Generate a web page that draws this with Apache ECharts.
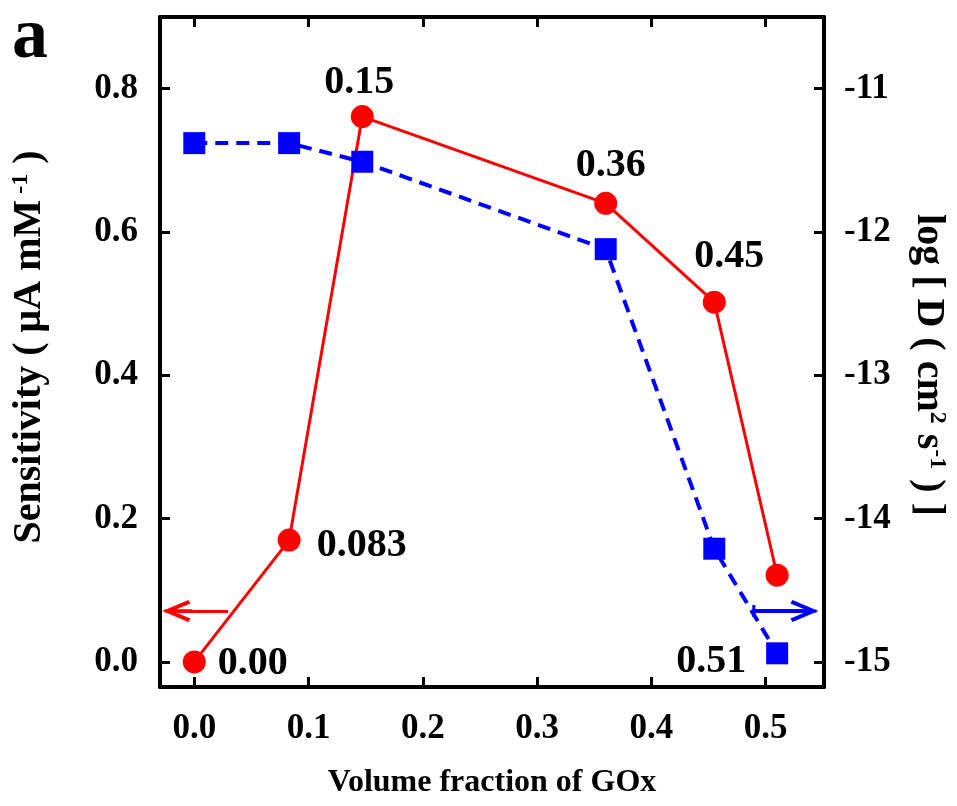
<!DOCTYPE html>
<html>
<head>
<meta charset="utf-8">
<script src="https://cdn.jsdelivr.net/npm/echarts@6/dist/echarts.min.js"></script>
<style>
  html, body { margin: 0; padding: 0; background: #fff; }
  #chart { width: 957px; height: 806px; }
</style>
</head>
<body>
<div id="chart"></div>
<script>
// volume fraction of GOx (x), sensitivity (left axis), log D (right axis)
var fraction = [0, 0.083, 0.147, 0.36, 0.455, 0.51];
var sensitivity = [0.0, 0.17, 0.761, 0.64, 0.502, 0.121];
var logD = [-11.38, -11.38, -11.51, -12.12, -14.21, -14.94];
var pointLabels = ['0.00', '0.083', '0.15', '0.36', '0.45', '0.51'];
var xTicks = [0, 0.1, 0.2, 0.3, 0.4, 0.5];
var leftTicks = [0, 0.2, 0.4, 0.6, 0.8];
var rightTicks = [-15, -14, -13, -12, -11];

var font = '"Liberation Serif", "Times New Roman", serif';
// open arrow head with a piece of shaft, tip at top; the tiny specks keep the box square
var arrowHead = 'path://M0,0 L11,26 L7.5,28 L0,10 L-7.5,28 L-11,26 Z' +
  ' M-1.6,2 L1.6,2 L1.6,30 L-1.6,30 Z' +
  ' M-15,30 L-14.9,30 L-15,29.9 Z M15,30 L14.9,30 L15,29.9 Z';
// short bar across the start of the blue arrow, same 30x30 box
var arrowStart = 'path://M-6,-1.5 L6,-1.5 L6,1.5 L-6,1.5 Z' +
  ' M-15,-15 L-14.9,-15 L-15,-14.9 Z M15,15 L14.9,15 L15,14.9 Z';

// where each label sits next to its point
var redLabelPos = [
  {position: 'right', distance: 12, offset: [0, 2]},
  {position: 'right', distance: 16, offset: [0, 6]},
  {position: 'top', distance: 2, offset: [-3, 0]},
  {position: 'top', distance: 6, offset: [5, 0]},
  {position: 'top', distance: 14, offset: [15, 0]},
  null
];

var redData = fraction.map(function (x, i) {
  var item = {value: [x, sensitivity[i]]};
  if (redLabelPos[i]) {
    item.label = Object.assign({show: true, formatter: pointLabels[i]}, redLabelPos[i]);
  }
  return item;
});
var blueData = fraction.map(function (x, i) {
  var item = {value: [x, logD[i]]};
  if (i === fraction.length - 1) {
    item.label = {show: true, formatter: pointLabels[i], position: 'left', distance: 20, offset: [0, 8]};
  }
  return item;
});

var tickStyle = {show: true, inside: true, length: 10, lineStyle: {color: '#000', width: 3}};
var lineStyle = {show: true, onZero: false, lineStyle: {color: '#000', width: 4}};
var labelFont = {color: '#000', fontFamily: font, fontWeight: 'bold', fontSize: 35};
var titleFont = {color: '#000', fontFamily: font, fontWeight: 'bold', fontSize: 40};
var supFont = {color: '#000', fontFamily: font, fontWeight: 'bold', fontSize: 24, padding: [0, 0, 17, 0]};

var chart = echarts.init(document.getElementById('chart'));
chart.setOption({
  animation: false,
  backgroundColor: '#fff',
  title: {
    text: 'a', left: 7, top: -3,
    textStyle: {fontFamily: font, fontWeight: 'bold', fontSize: 72, color: '#000'}
  },
  grid: {left: 160, right: 129, top: 17, bottom: 119},
  xAxis: [{
    type: 'value', min: -0.03, max: 0.551,
    axisLine: lineStyle,
    axisTick: Object.assign({customValues: xTicks}, tickStyle),
    axisLabel: Object.assign({customValues: xTicks, margin: 24, formatter: function (v) { return v.toFixed(1); }}, labelFont),
    splitLine: {show: false},
    name: 'Volume fraction of GOx', nameLocation: 'middle', nameGap: 80,
    nameTextStyle: {color: '#000', fontFamily: font, fontWeight: 'bold', fontSize: 32}
  }, {
    type: 'value', position: 'top', min: -0.03, max: 0.551,
    axisLine: lineStyle,
    axisTick: Object.assign({customValues: xTicks}, tickStyle),
    axisLabel: {show: false},
    splitLine: {show: false}
  }],
  yAxis: [{
    type: 'value', min: -0.035, max: 0.9,
    axisLine: lineStyle,
    axisTick: Object.assign({customValues: leftTicks}, tickStyle),
    axisLabel: Object.assign({customValues: leftTicks, margin: 22, formatter: function (v) { return v.toFixed(1); }}, labelFont),
    splitLine: {show: false},
    name: '{t|Sensitivity ( μA mM}{s| -1}{t| )}', nameLocation: 'middle', nameGap: 110, nameRotate: 90,
    nameTextStyle: {padding: [0, 0, 0, 10], rich: {t: titleFont, s: supFont}}
  }, {
    type: 'value', position: 'right', min: -15.175, max: -10.5,
    axisLine: lineStyle,
    axisTick: Object.assign({customValues: rightTicks}, tickStyle),
    axisLabel: Object.assign({customValues: rightTicks, margin: 20}, labelFont),
    splitLine: {show: false},
    name: '{t|log [ D ( cm}{s|2}{t| s}{s|-1}{t| ) ]}', nameLocation: 'middle', nameGap: 84, nameRotate: -90,
    nameTextStyle: {padding: [0, 0, 0, 26], rich: {t: titleFont, s: supFont}}
  }],
  series: [{
    name: 'Sensitivity',
    type: 'line',
    xAxisIndex: 0, yAxisIndex: 0,
    data: redData,
    symbol: 'circle', symbolSize: 23,
    itemStyle: {color: '#ff0000'},
    lineStyle: {color: '#ff0000', width: 3},
    label: {color: '#000', fontFamily: font, fontWeight: 'bold', fontSize: 40},
    markLine: {
      silent: true, animation: false,
      symbol: ['none', arrowHead], symbolSize: 30,
      lineStyle: {color: '#ff0000', width: 3, type: 'solid'},
      label: {show: false},
      data: [[{coord: [0.0296, 0.0711]}, {coord: [-0.0148, 0.0711]}]]
    },
    z: 2
  }, {
    name: 'log D',
    type: 'line',
    xAxisIndex: 0, yAxisIndex: 1,
    data: blueData,
    symbol: 'rect', symbolSize: 22,
    itemStyle: {color: '#0000ff'},
    lineStyle: {color: '#0000ff', width: 4, type: [13, 8]},
    label: {color: '#000', fontFamily: font, fontWeight: 'bold', fontSize: 40},
    markLine: {
      silent: true, animation: false,
      symbol: [arrowStart, arrowHead], symbolSize: 30,
      lineStyle: {color: '#0000ff', width: 4, type: 'solid'},
      label: {show: false},
      data: [[{coord: [0.4896, -14.645]}, {coord: [0.533, -14.645]}]]
    },
    z: 3
  }]
});
</script>
</body>
</html>
